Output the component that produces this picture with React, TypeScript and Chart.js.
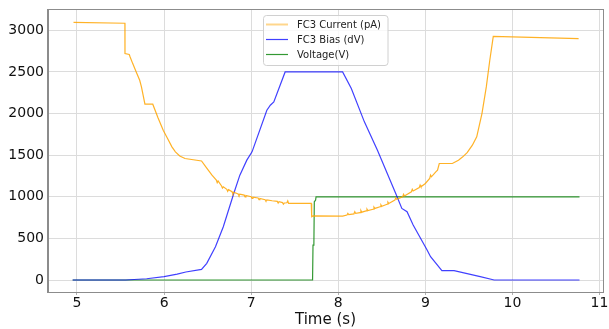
import React, { useEffect, useRef } from "react";
import { Chart, registerables } from "chart.js";

Chart.register(...registerables);

// FC3 Current (pA)
const currentT = [4.96, 5.55, 5.551, 5.6, 5.61, 5.64, 5.68, 5.72, 5.74, 5.78, 5.87, 5.93, 5.99, 6.04, 6.09, 6.13, 6.18, 6.24, 6.43, 6.49, 6.55, 6.6, 6.61, 6.62, 6.66, 6.67, 6.68, 6.72, 6.73, 6.74, 6.78, 6.79, 6.8, 6.85, 6.86, 6.87, 6.92, 6.93, 6.94, 7.0, 7.01, 7.02, 7.08, 7.09, 7.1, 7.16, 7.17, 7.18, 7.24, 7.3, 7.31, 7.32, 7.36, 7.37, 7.38, 7.41, 7.42, 7.43, 7.69, 7.695, 7.71, 8.05, 8.1, 8.11, 8.12, 8.18, 8.19, 8.2, 8.25, 8.26, 8.27, 8.32, 8.33, 8.34, 8.4, 8.41, 8.42, 8.48, 8.49, 8.5, 8.56, 8.57, 8.58, 8.65, 8.66, 8.67, 8.74, 8.75, 8.76, 8.84, 8.85, 8.86, 8.93, 8.94, 8.95, 9.0, 9.05, 9.06, 9.07, 9.12, 9.14, 9.16, 9.31, 9.38, 9.43, 9.48, 9.54, 9.59, 9.65, 9.7, 9.74, 9.78, 10.76];
const currentV = [3095, 3085, 2720, 2710, 2680, 2600, 2500, 2400, 2320, 2112, 2112, 1950, 1800, 1700, 1600, 1540, 1490, 1460, 1430, 1344, 1260, 1200, 1170, 1190, 1130, 1105, 1120, 1090, 1065, 1085, 1060, 1035, 1055, 1035, 1015, 1030, 1020, 1000, 1015, 1000, 980, 995, 985, 965, 980, 965, 950, 962, 952, 945, 925, 940, 930, 912, 925, 928, 950, 920, 920, 760, 770, 768, 780, 800, 785, 795, 820, 800, 810, 835, 815, 830, 852, 835, 850, 875, 860, 880, 902, 885, 910, 935, 920, 960, 985, 970, 1000, 1030, 1010, 1060, 1090, 1070, 1110, 1140, 1120, 1160, 1220, 1260, 1240, 1300, 1320, 1400, 1400, 1440, 1480, 1530, 1620, 1720, 2000, 2320, 2640, 2928, 2900];

// FC3 Bias (dV)
const biasT = [4.95, 5.56, 5.8, 6.0, 6.15, 6.25, 6.43, 6.49, 6.59, 6.68, 6.8, 6.87, 6.95, 7.01, 7.18, 7.22, 7.26, 7.39, 8.05, 8.15, 8.3, 8.45, 8.66, 8.73, 8.79, 8.86, 9.02, 9.06, 9.19, 9.33, 9.63, 9.79, 10.77];
const biasV = [0, 0, 15, 40, 70, 96, 128, 200, 400, 640, 1040, 1260, 1440, 1540, 2040, 2100, 2140, 2500, 2500, 2300, 1900, 1560, 1040, 860, 820, 660, 360, 280, 112, 112, 40, 0, 0];

// Voltage(V)
const voltT = [4.95, 7.705, 7.71, 7.72, 7.725, 7.74, 7.745, 10.77];
const voltV = [0, 0, 420, 430, 940, 960, 1000, 1000];

const xTicks = [5, 6, 7, 8, 9, 10, 11];
const yTicks = [0, 500, 1000, 1500, 2000, 2500, 3000];

const seriesLabels = ["FC3 Current (pA)", "FC3 Bias (dV)", "Voltage(V)"];
const seriesColors = ["rgba(255,165,0,0.85)", "rgba(0,0,255,0.75)", "rgba(0,128,0,0.8)"];

const toXY = (t: number[], v: number[]) => t.map((x, i) => ({ x, y: v[i] }));

const FONT = "'DejaVu Sans', sans-serif";

const framePlugin = {
  id: "frame",
  afterDatasetsDraw(chart: any) {
    const { ctx, chartArea: a } = chart;
    ctx.save();
    ctx.strokeStyle = "#8c8c8c";
    ctx.lineWidth = 1;
    ctx.strokeRect(Math.round(a.left) - 0.5, Math.round(a.top) - 0.5, Math.round(a.right - a.left) + 1, Math.round(a.bottom - a.top) + 1);
    ctx.restore();
  },
};

const legendPlugin = {
  id: "insideLegend",
  afterDraw(chart: any) {
    const ctx = chart.ctx;
    ctx.save();
    const bx = 263.5, by = 15.5, bw = 124.5, bh = 50;
    ctx.beginPath();
    (ctx as any).roundRect(bx, by, bw, bh, 3);
    ctx.fillStyle = "rgba(255,255,255,0.8)";
    ctx.fill();
    ctx.strokeStyle = "#d0d0d0";
    ctx.lineWidth = 1;
    ctx.stroke();
    ctx.font = "10px " + FONT;
    ctx.textBaseline = "middle";
    ctx.textAlign = "left";
    const rows = [24.5, 39.5, 54.5];
    seriesLabels.forEach((lab, i) => {
      ctx.strokeStyle = i === 0 ? "rgba(255,165,0,0.45)" : seriesColors[i];
      ctx.lineWidth = i === 0 ? 2 : 1.2;
      ctx.beginPath();
      ctx.moveTo(266, rows[i]);
      ctx.lineTo(288, rows[i]);
      ctx.stroke();
      ctx.fillStyle = "#222";
      ctx.fillText(lab, 297, rows[i] + 0.5);
    });
    ctx.restore();
  },
};

export default function App() {
  const ref = useRef<HTMLCanvasElement>(null);
  useEffect(() => {
    const chart = new Chart(ref.current!, {
      type: "scatter",
      data: {
        datasets: [
          { label: seriesLabels[0], data: toXY(currentT, currentV) },
          { label: seriesLabels[1], data: toXY(biasT, biasV) },
          { label: seriesLabels[2], data: toXY(voltT, voltV) },
        ].map((d, i) => ({
          ...d,
          showLine: true,
          borderColor: seriesColors[i],
          backgroundColor: seriesColors[i],
          borderWidth: 1.2,
          pointRadius: 0,
          tension: 0,
        })),
      },
      options: {
        animation: false,
        responsive: false,
        devicePixelRatio: 1,
        layout: { padding: { top: 10, right: 6, left: 0, bottom: 0 } },
        plugins: { legend: { display: false }, tooltip: { enabled: false } },
        scales: {
          x: {
            type: "linear",
            min: 4.667,
            max: 11.04,
            afterBuildTicks: (s: any) => {
              s.ticks = xTicks.map((v) => ({ value: v }));
            },
            afterFit: (s: any) => {
              s.height = 37;
              s.paddingLeft = 0;
              s.paddingRight = 0;
            },
            ticks: { includeBounds: false, color: "#111", font: { family: FONT, size: 14 }, padding: 0, maxRotation: 0, callback: (v: any) => String(v) },
            grid: { color: "#dcdcdc", lineWidth: 1, drawTicks: true, tickLength: 3, tickColor: "#b0b0b0" },
            border: { color: "#8c8c8c", width: 1 },
            title: { display: true, text: "Time (s)", color: "#111", font: { family: FONT, size: 15 }, padding: { top: 0, bottom: 0 } },
          },
          y: {
            type: "linear",
            min: -144,
            max: 3244,
            afterBuildTicks: (s: any) => {
              s.ticks = yTicks.map((v) => ({ value: v }));
            },
            afterFit: (s: any) => {
              s.width = 48;
              s.paddingTop = 0;
              s.paddingBottom = 0;
            },
            ticks: { includeBounds: false, color: "#111", font: { family: FONT, size: 14 }, padding: 4, callback: (v: any) => String(v) },
            grid: { color: "#dcdcdc", lineWidth: 1, drawTicks: false },
            border: { color: "#8c8c8c", width: 1 },
          },
        },
      },
      plugins: [framePlugin, legendPlugin],
    });
    return () => chart.destroy();
  }, []);
  return (
    <div style={{ position: "fixed", left: 0, top: 0, width: 609, height: 329, background: "#fff" }}>
      <canvas ref={ref} width={609} height={329} style={{ display: "block" }} />
    </div>
  );
}
